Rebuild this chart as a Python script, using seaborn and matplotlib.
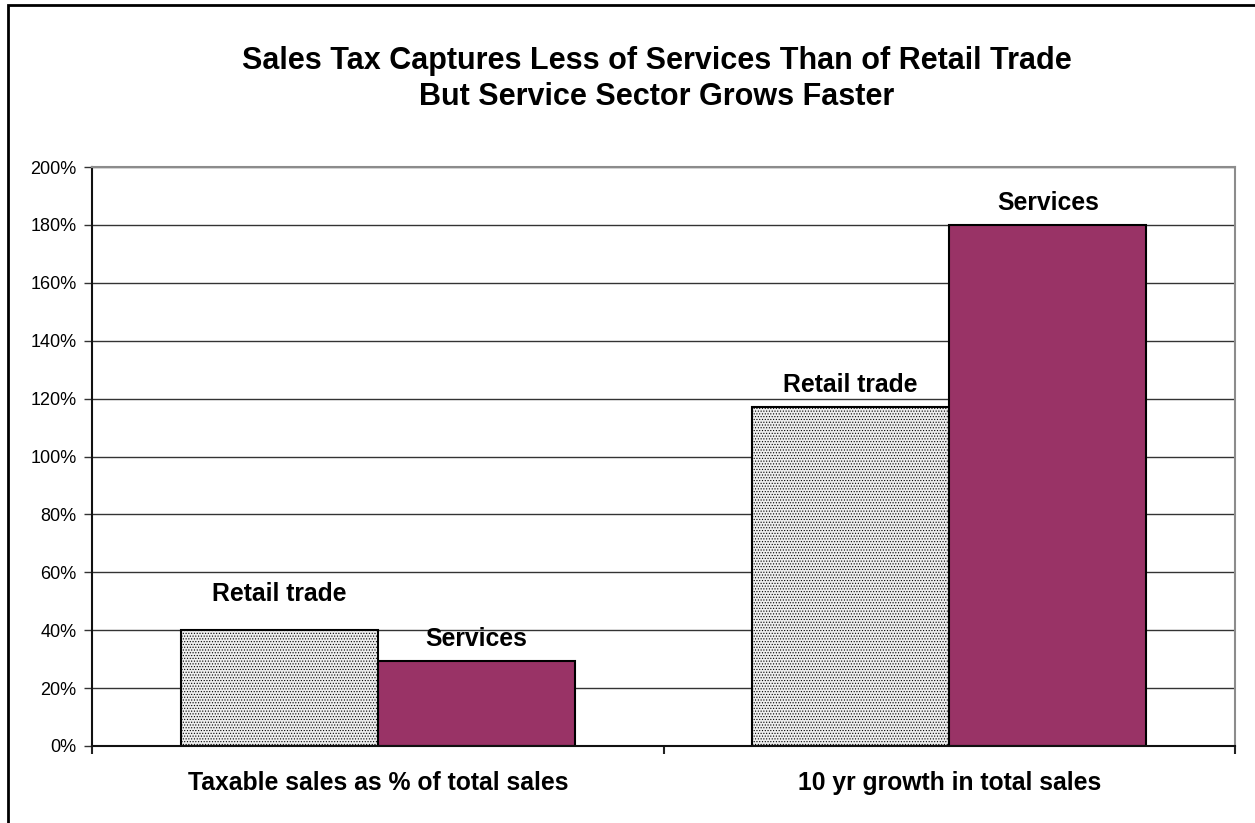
import matplotlib
matplotlib.use("Agg")
import matplotlib.pyplot as plt
import seaborn as sns
import pandas as pd
from matplotlib.patches import Rectangle
from matplotlib.ticker import FuncFormatter, FixedLocator

categories = ["Taxable sales as % of total sales", "10 yr growth in total sales"]
series = ["Retail trade", "Services"]
retail_values = [40, 117]
services_values = [29.5, 180]
title_lines = ["Sales Tax Captures Less of Services Than of Retail Trade",
               "But Service Sector Grows Faster"]

df = pd.DataFrame({
    "category": categories * 2,
    "series": [series[0]] * 2 + [series[1]] * 2,
    "value": retail_values + services_values,
})

sns.set_theme(style="white")
plt.rcParams["font.family"] = ["Liberation Sans", "DejaVu Sans"]
plt.rcParams["text.color"] = "black"
plt.rcParams["xtick.color"] = "black"
plt.rcParams["ytick.color"] = "black"
plt.rcParams["hatch.color"] = "#666666"
plt.rcParams["hatch.linewidth"] = 0.5

fig = plt.figure(figsize=(12.55, 8.23), dpi=100)
ax = fig.add_axes([92 / 1255, 1 - 746 / 823, (1235 - 92) / 1255, (746 - 167) / 823])

sns.barplot(data=df, x="category", y="value", hue="series", order=categories,
            hue_order=series, palette=["#d4d4d4", "#993366"], width=0.69,
            gap=0, saturation=1, edgecolor="black", linewidth=1.5, ax=ax,
            legend=False)

for bar in ax.containers[0]:
    bar.set_hatch("......")
    bar.set_facecolor("#eeeeee")

ax.set_ylim(0, 200)
ax.set_xlim(-0.5, 1.5)
ax.set_yticks(range(0, 201, 20))
ax.yaxis.set_major_formatter(FuncFormatter(lambda v, p: f"{v:.0f}%"))
ax.yaxis.grid(True, color="#333333", linewidth=1)
ax.set_axisbelow(True)
ax.set_xlabel("")
ax.set_ylabel("")

ax.tick_params(axis="y", which="major", length=6, width=1, color="#333333",
               labelsize=13, labelcolor="black", pad=5, left=True)
ax.tick_params(axis="x", which="major", length=0, labelsize=17.8,
               labelcolor="black", pad=18)
for lbl in ax.get_xticklabels():
    lbl.set_fontweight("bold")
ax.xaxis.set_minor_locator(FixedLocator([-0.5, 0.5, 1.5]))
ax.tick_params(axis="x", which="minor", length=6, width=1.5, color="#222222",
               bottom=True)

for side in ["left", "bottom"]:
    ax.spines[side].set_color("#111111")
    ax.spines[side].set_linewidth(1.5)
for side in ["top", "right"]:
    ax.spines[side].set_color("#8c8c8c")
    ax.spines[side].set_linewidth(1.5)

label_offsets = [[17.5, 7.5], [7, 7]]
for si, cont in enumerate(ax.containers):
    for ci, bar in enumerate(cont):
        x = bar.get_x() + bar.get_width() / 2
        h = bar.get_height()
        ax.annotate(series[si], (x, h), xytext=(0, label_offsets[si][ci]),
                    textcoords="offset points", ha="center", va="bottom",
                    fontsize=17.8, fontweight="bold", color="black")

fig.text(0.5 * (243 + 1070) / 1255, 1 - 79 / 823, "\n".join(title_lines),
         ha="center", va="center", fontsize=22, fontweight="bold",
         linespacing=1.24, color="black")

fig.patches.append(Rectangle((8 / 1255, -0.05), 1.1, 1 - 5 / 823 + 0.05,
                             transform=fig.transFigure, fill=False,
                             edgecolor="black", linewidth=2))

fig.savefig("out.png", dpi=100)
